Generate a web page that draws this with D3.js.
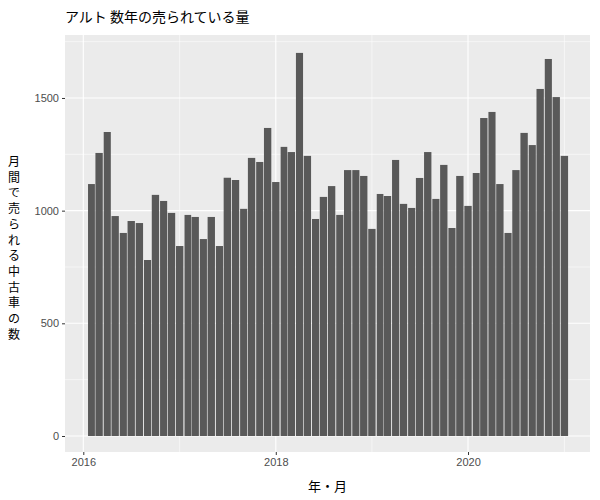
<!DOCTYPE html>
<html>
<head>
<meta charset="utf-8">
<script src="https://cdn.jsdelivr.net/npm/d3@7"></script>
<style>
  body { margin: 0; background: #fff; }
  text { font-family: "Noto Sans CJK JP", "Noto Sans", sans-serif; }
</style>
</head>
<body>
<div id="chart"></div>
<script>
// Monthly counts, Feb 2016 .. Jan 2021
const startMonth = "2016-02";
const counts = [
  1118, 1256, 1349, 976, 901, 954, 945, 781, 1070, 1043, 990,
  843, 981, 972, 874, 972, 843, 1146, 1136, 1008, 1234, 1216, 1367,
  1127, 1283, 1260, 1700, 1243, 963, 1061, 1109, 981, 1180, 1180, 1154,
  919, 1074, 1065, 1225, 1030, 1012, 1145, 1260, 1052, 1203, 923, 1154,
  1021, 1167, 1411, 1438, 1118, 901, 1180, 1345, 1291, 1540, 1673, 1504,
  1243
];
const yTicks = [0, 500, 1000, 1500];
const yMinor = [250, 750, 1250, 1750];
const xTickYears = [2016, 2018, 2020];
const xMinorYears = [2017, 2019, 2021];

const parse = d3.timeParse("%Y-%m");
const data = counts.map((v, i) => ({ date: d3.timeMonth.offset(parse(startMonth), i), value: v }));

const width = 600, height = 500;
const panel = { left: 65, right: 590, top: 35, bottom: 452 };

const svg = d3.select("#chart").append("svg")
  .attr("width", width)
  .attr("height", height);

const x = d3.scaleTime()
  .domain([new Date(2016, 0, 1), new Date(2021, 0, 1)])
  .range([83.3, 564.4]);
const y = d3.scaleLinear()
  .domain([0, 1775])
  .range([436, 36]);

// panel background
svg.append("rect")
  .attr("x", panel.left).attr("y", panel.top)
  .attr("width", panel.right - panel.left).attr("height", panel.bottom - panel.top)
  .attr("fill", "#EBEBEB");

// grid lines
const grid = svg.append("g");
grid.selectAll(".ymin").data(yMinor).join("line")
  .attr("x1", panel.left).attr("x2", panel.right)
  .attr("y1", d => y(d)).attr("y2", d => y(d))
  .attr("stroke", "#fff").attr("stroke-width", 0.55);
grid.selectAll(".xmin").data(xMinorYears).join("line")
  .attr("x1", d => x(new Date(d, 0, 1))).attr("x2", d => x(new Date(d, 0, 1)))
  .attr("y1", panel.top).attr("y2", panel.bottom)
  .attr("stroke", "#fff").attr("stroke-width", 0.55);
grid.selectAll(".ymaj").data(yTicks).join("line")
  .attr("x1", panel.left).attr("x2", panel.right)
  .attr("y1", d => y(d)).attr("y2", d => y(d))
  .attr("stroke", "#fff").attr("stroke-width", 1.1);
grid.selectAll(".xmaj").data(xTickYears).join("line")
  .attr("x1", d => x(new Date(d, 0, 1))).attr("x2", d => x(new Date(d, 0, 1)))
  .attr("y1", panel.top).attr("y2", panel.bottom)
  .attr("stroke", "#fff").attr("stroke-width", 1.1);

// bars
svg.append("g").selectAll("rect").data(data).join("rect")
  .attr("x", d => {
    const w = x(d3.timeMonth.offset(d.date, 1)) - x(d.date);
    return x(d.date) - w * 0.45;
  })
  .attr("width", d => (x(d3.timeMonth.offset(d.date, 1)) - x(d.date)) * 0.9)
  .attr("y", d => y(d.value))
  .attr("height", d => y(0) - y(d.value))
  .attr("fill", "#595959");

// axes
const xAxis = d3.axisBottom(x)
  .tickValues(xTickYears.map(yr => new Date(yr, 0, 1)))
  .tickFormat(d3.timeFormat("%Y"))
  .tickSize(3).tickPadding(3);
const gx = svg.append("g").attr("transform", `translate(0,${panel.bottom})`).call(xAxis);
const yAxis = d3.axisLeft(y).tickValues(yTicks).tickFormat(d3.format("d")).tickSize(3).tickPadding(3);
const gy = svg.append("g").attr("transform", `translate(${panel.left},0)`).call(yAxis);
[gx, gy].forEach(g => {
  g.select(".domain").remove();
  g.selectAll(".tick line").attr("stroke", "#333");
  g.selectAll(".tick text").attr("fill", "#4D4D4D")
    .style("font-family", "'Liberation Sans', Arial, sans-serif")
    .style("font-size", "11px");
});

// title and labels
svg.append("text")
  .attr("x", panel.left).attr("y", 22)
  .style("font-size", "14px").attr("fill", "#000")
  .text("アルト 数年の売られている量");

svg.append("text")
  .attr("x", (panel.left + panel.right) / 2).attr("y", 491)
  .attr("text-anchor", "middle")
  .style("font-size", "13px").attr("fill", "#000")
  .text("年・月");

const yLabel = "月間で売られる中古車の数".split("");
svg.append("g").selectAll("text").data(yLabel).join("text")
  .attr("x", 14)
  .attr("y", (d, i) => 166 + i * 15.7)
  .attr("text-anchor", "middle")
  .style("font-size", "12px").attr("fill", "#000")
  .text(d => d);
</script>
</body>
</html>
